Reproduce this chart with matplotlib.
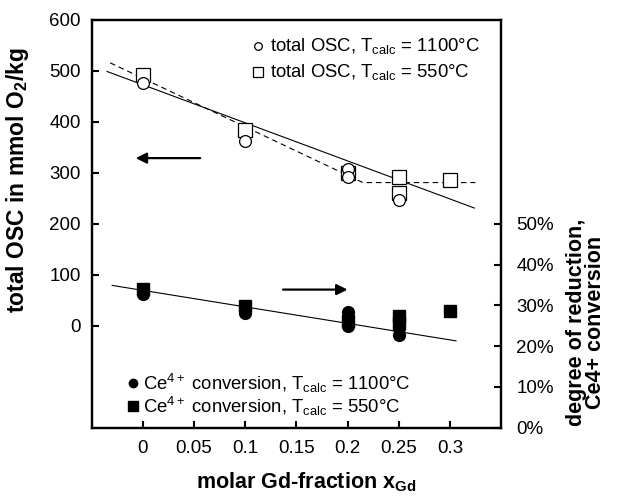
import numpy as np
import matplotlib
matplotlib.use('Agg')
import matplotlib.pyplot as plt
from matplotlib.ticker import FuncFormatter

plt.rcParams['font.family'] = ['Liberation Sans', 'DejaVu Sans']
plt.rcParams['mathtext.fontset'] = 'custom'
plt.rcParams['mathtext.rm'] = 'Liberation Sans'
plt.rcParams['mathtext.it'] = 'Liberation Sans:italic'
plt.rcParams['mathtext.bf'] = 'Liberation Sans:bold'

# ------------------------------------------------------------------
# data
# ------------------------------------------------------------------
# total OSC (left axis, mmol O2/kg)
osc_1100_x = [0.0, 0.1, 0.2, 0.2, 0.25]
osc_1100_y = [476, 363, 308, 291, 247]
osc_550_x = [0.0, 0.1, 0.2, 0.25, 0.25, 0.3]
osc_550_y = [493, 384, 299, 291, 260, 286]

# Ce4+ conversion (right axis, fraction)
ce_1100_x = [0.0, 0.1, 0.1, 0.2, 0.2, 0.25, 0.25]
ce_1100_y = [0.329, 0.282, 0.290, 0.284, 0.249, 0.245, 0.228]
ce_550_x = [0.0, 0.1, 0.2, 0.25, 0.25, 0.3]
ce_550_y = [0.341, 0.298, 0.261, 0.273, 0.257, 0.286]

# trend lines
osc_fit_x = [-0.035, 0.324]
osc_fit_y = [499, 231]
osc_dash_x = [-0.032, 0.215, 0.325]
osc_dash_y = [516, 281, 281]
ce_fit_x = [-0.030, 0.306]
ce_fit_y = [0.349, 0.213]

x_ticks = [0, 0.05, 0.1, 0.15, 0.2, 0.25, 0.3]
x_ticklabels = ['0', '0.05', '0.1', '0.15', '0.2', '0.25', '0.3']
left_ticks = [0, 100, 200, 300, 400, 500, 600]
right_ticks = [0, 0.1, 0.2, 0.3, 0.4, 0.5]

# ------------------------------------------------------------------
W, H = 621, 500
fig = plt.figure(figsize=(W / 100, H / 100), dpi=100)


def fx(px):
    return px / W


def fy(py):
    return 1 - py / H


ax = fig.add_axes([fx(91.7), fy(427.7), (501 - 91.7) / W, (427.7 - 20) / H])
ax2 = ax.twinx()

# left axis: OSC
ax.plot(osc_fit_x, osc_fit_y, '-', color='black', lw=0.8)
ax.plot(osc_dash_x, osc_dash_y, '--', color='black', lw=0.8, dashes=(5, 3.5))
ax.plot(osc_550_x, osc_550_y, 's', ms=9.5, mfc='white', mec='black', mew=0.9,
        linestyle='none')
ax.plot(osc_1100_x, osc_1100_y, 'o', ms=8.5, mfc='white', mec='black', mew=0.9,
        linestyle='none')

ax.set_xlim(-0.05, 0.35)
ax.set_ylim(-200, 600)
ax.set_xticks(x_ticks)
ax.set_xticklabels(x_ticklabels)
ax.set_yticks(left_ticks)

# right axis: Ce4+ conversion
ax2.plot(ce_fit_x, ce_fit_y, '-', color='black', lw=0.8)
ax2.plot(ce_1100_x, ce_1100_y, 'o', ms=8.5, color='black', linestyle='none')
ax2.plot(ce_550_x, ce_550_y, 's', ms=8.5, color='black', linestyle='none')
ax2.set_ylim(0, 1)
ax2.set_yticks(right_ticks)
ax2.yaxis.set_major_formatter(FuncFormatter(lambda v, p: f'{v * 100:.0f}%'))

for a in (ax, ax2):
    for s in a.spines.values():
        s.set_linewidth(1.6)
    a.tick_params(direction='in', length=5, width=1.5, labelsize=13.5, pad=8)
ax.tick_params(axis='x', pad=9)
ax2.tick_params(axis='y', pad=11)

# arrows
ax.annotate('', xy=(-0.007, 329), xytext=(0.056, 329),
            arrowprops=dict(arrowstyle='-|>', lw=1.6, color='black',
                            mutation_scale=16, shrinkA=0, shrinkB=0))
ax.annotate('', xy=(0.200, 71), xytext=(0.137, 71),
            arrowprops=dict(arrowstyle='-|>', lw=1.6, color='black',
                            mutation_scale=16, shrinkA=0, shrinkB=0))

# legends (drawn by hand)
fs_leg = 13.3
fig.lines.append(plt.Line2D([fx(258.3)], [fy(46)], marker='o', ms=5.5, mfc='white',
                            mec='black', mew=0.9, transform=fig.transFigure))
fig.lines.append(plt.Line2D([fx(258.3)], [fy(71.7)], marker='s', ms=7.5, mfc='white',
                            mec='black', mew=0.9, transform=fig.transFigure))
fig.text(fx(270.5), fy(46), r'total OSC, T$_{\mathregular{calc}}$ = 1100°C',
         fontsize=fs_leg, va='center', ha='left')
fig.text(fx(270.5), fy(71.7), r'total OSC, T$_{\mathregular{calc}}$ = 550°C',
         fontsize=fs_leg, va='center', ha='left')

fig.lines.append(plt.Line2D([fx(133.3)], [fy(383)], marker='o', ms=6, color='black',
                            transform=fig.transFigure))
fig.lines.append(plt.Line2D([fx(133.3)], [fy(406)], marker='s', ms=7, color='black',
                            transform=fig.transFigure))
fig.text(fx(143.3), fy(383), r'Ce$^{\mathregular{4+}}$ conversion, T$_{\mathregular{calc}}$ = 1100°C',
         fontsize=fs_leg, va='center', ha='left')
fig.text(fx(143.3), fy(406), r'Ce$^{\mathregular{4+}}$ conversion, T$_{\mathregular{calc}}$ = 550°C',
         fontsize=fs_leg, va='center', ha='left')

# axis labels
fig.text(fx(18), fy(180), r'total OSC in mmol O$_{\mathbf{2}}$/kg', rotation=90,
         fontsize=16.5, fontweight='bold', ha='center', va='center')
fig.text(fx(586), fy(322), 'degree of reduction,\nCe4+ conversion', rotation=90,
         fontsize=15.5, fontweight='bold', ha='center', va='center', multialignment='center',
         linespacing=0.85)
fig.text(fx(306), fy(482), r'molar Gd-fraction x$_{\mathbf{Gd}}$',
         fontsize=15.5, fontweight='bold', ha='center', va='center')

fig.savefig('out.png', dpi=100, facecolor='white')
